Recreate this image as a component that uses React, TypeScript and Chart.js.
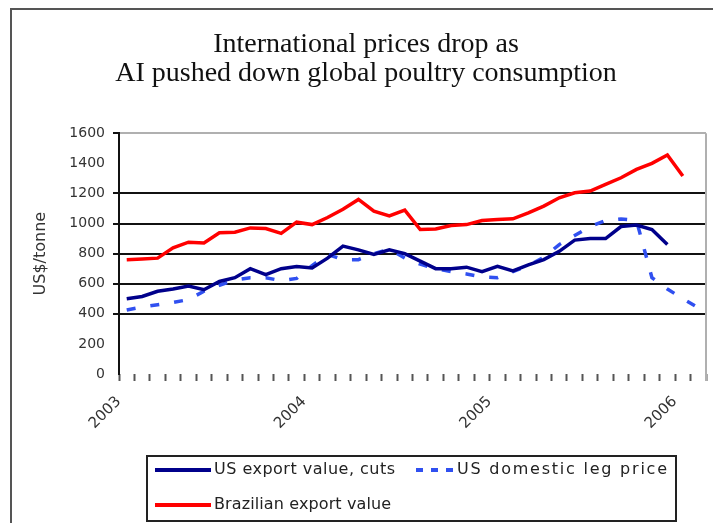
import { useEffect, useRef } from 'react';
import { Chart, registerables } from 'chart.js';

Chart.register(...registerables);

const months: string[] = [
  '2003-01', '2003-02', '2003-03', '2003-04', '2003-05', '2003-06', '2003-07', '2003-08', '2003-09', '2003-10', '2003-11', '2003-12',
  '2004-01', '2004-02', '2004-03', '2004-04', '2004-05', '2004-06', '2004-07', '2004-08', '2004-09', '2004-10', '2004-11', '2004-12',
  '2005-01', '2005-02', '2005-03', '2005-04', '2005-05', '2005-06', '2005-07', '2005-08', '2005-09', '2005-10', '2005-11', '2005-12',
  '2006-01', '2006-02',
];

const usExportValue: (number | null)[] = [
  500, 515, 550, 565, 585, 560, 615, 640, 700, 660, 700, 715,
  705, 770, 850, 825, 795, 825, 800, 750, 700, 700, 710, 680,
  715, 685, 725, 760, 815, 890, 900, 900, 980, 990, 960, 860,
  null, null,
];

const usDomesticLegPrice: (number | null)[] = [
  425, 445, 460, 475, 495, 550, 590, 625, 640, 640, 620, 635,
  720, 795, 760, 760, 800, 830, 770, 730, 700, 680, 665, 645,
  640, 680, 720, 776, 860, 920, 980, 1020, 1030, 1020, 640, 565,
  500, 440,
];

const brazilianExportValue: (number | null)[] = [
  760, 765, 770, 838, 876, 871, 938, 942, 971, 967, 935, 1009,
  993, 1040, 1095, 1160, 1082, 1050, 1089, 960, 964, 987, 993, 1020,
  1027, 1031, 1071, 1116, 1171, 1204, 1216, 1260, 1304, 1360, 1400, 1456,
  1316, null,
];

const seriesNames: string[] = ['US export value, cuts', 'US domestic leg price', 'Brazilian export value'];
const titleLines: string[] = ['International prices drop as', 'AI pushed down global poultry consumption'];
const yAxisTitle = 'US$/tonne';
const yMin = 0;
const yMax = 1600;
const yStep = 200;
const darkGridValues: number[] = [400, 600, 800, 1000, 1200];

const legendLayout = [
  { x: 155, y: 470, len: 56, textX: 214, textW: 181 },
  { x: 416, y: 470, len: 40, textX: 457, textW: 210 },
  { x: 155, y: 505, len: 56, textX: 214, textW: 177 },
];

const framePlugin = {
  id: 'frameAndLegend',
  beforeDraw(chart: any) {
    const ctx = chart.ctx;
    ctx.save();
    ctx.fillStyle = '#ffffff';
    ctx.fillRect(0, 0, chart.width, chart.height);
    ctx.strokeStyle = '#555555';
    ctx.lineWidth = 2;
    ctx.beginPath();
    ctx.moveTo(11, chart.height + 2);
    ctx.lineTo(11, 9);
    ctx.lineTo(chart.width + 2, 9);
    ctx.stroke();
    ctx.restore();
  },
  afterDraw(chart: any) {
    const ctx = chart.ctx;
    const area = chart.chartArea;
    ctx.save();
    ctx.strokeStyle = '#b0b0b0';
    ctx.lineWidth = 2;
    ctx.beginPath();
    ctx.moveTo(area.right, area.top);
    ctx.lineTo(area.right, area.bottom + 7);
    ctx.stroke();
    ctx.strokeStyle = '#222222';
    ctx.lineWidth = 2;
    ctx.strokeRect(147, 456, 529, 65);
    ctx.font = '16px "DejaVu Sans"';
    ctx.textBaseline = 'middle';
    ctx.textAlign = 'left';
    chart.data.datasets.forEach((ds: any, i: number) => {
      const L = legendLayout[i];
      ctx.strokeStyle = ds.borderColor;
      ctx.lineWidth = 4;
      ctx.setLineDash(ds.borderDash && ds.borderDash.length ? [7, 8] : []);
      ctx.beginPath();
      ctx.moveTo(L.x, L.y);
      ctx.lineTo(L.x + L.len, L.y);
      ctx.stroke();
      ctx.setLineDash([]);
      ctx.fillStyle = '#222222';
      const label = String(ds.label);
      (ctx as any).letterSpacing = '0px';
      const w = ctx.measureText(label).width;
      const extra = Math.max(0, (L.textW - w) / Math.max(1, label.length - 1));
      (ctx as any).letterSpacing = extra.toFixed(2) + 'px';
      ctx.fillText(label, L.textX, L.y);
      (ctx as any).letterSpacing = '0px';
    });
    ctx.restore();
  },
};

export default function App() {
  const canvasRef = useRef<HTMLCanvasElement | null>(null);

  useEffect(() => {
    document.body.style.margin = '0';
    document.body.style.overflow = 'hidden';
    const canvas = canvasRef.current;
    if (!canvas) return;
    const chart = new Chart(canvas, {
      type: 'line',
      data: {
        labels: months,
        datasets: [
          {
            label: seriesNames[0],
            data: usExportValue,
            borderColor: '#00008b',
            borderWidth: 3.5,
            pointRadius: 0,
            tension: 0,
            fill: false,
          },
          {
            label: seriesNames[1],
            data: usDomesticLegPrice,
            borderColor: '#3050f0',
            borderWidth: 3.5,
            borderDash: [9, 15],
            pointRadius: 0,
            tension: 0,
            fill: false,
          },
          {
            label: seriesNames[2],
            data: brazilianExportValue,
            borderColor: '#ff0000',
            borderWidth: 3.5,
            pointRadius: 0,
            tension: 0,
            fill: false,
          },
        ],
      },
      options: {
        animation: false,
        responsive: false,
        maintainAspectRatio: false,
        layout: { padding: { left: 26, right: 7, top: 0, bottom: 0 } },
        plugins: {
          legend: { display: false },
          tooltip: { enabled: false },
          title: {
            display: true,
            text: titleLines,
            color: '#111111',
            font: { family: '"Liberation Serif", serif', size: 28, weight: 'normal', lineHeight: 1.04 },
            padding: { top: 30, bottom: 45 },
          },
        },
        scales: {
          x: {
            type: 'category',
            offset: true,
            afterFit(scale: any) {
              scale.height = 149;
              scale.paddingLeft = 0;
              scale.paddingRight = 0;
            },
            border: { display: false },
            grid: {
              offset: true,
              drawOnChartArea: false,
              drawTicks: true,
              tickLength: 7,
              tickColor: '#555555',
              tickWidth: 2,
            },
            ticks: {
              autoSkip: false,
              maxRotation: 45,
              minRotation: 45,
              labelOffset: -8,
              padding: 12,
              color: '#333333',
              font: { family: '"DejaVu Sans"', size: 15 },
              callback(this: any, value: any) {
                const lab = this.getLabelForValue(value) as string;
                return lab.endsWith('-01') ? lab.slice(0, 4) : '';
              },
            },
          },
          y: {
            min: yMin,
            max: yMax,
            afterFit(scale: any) {
              scale.width = 93;
            },
            border: { display: true, color: '#111111', width: 2 },
            grid: {
              lineWidth: 2,
              tickLength: 6,
              color: (c: any) => {
                const v = c.tick ? c.tick.value : null;
                if (v === yMax) return '#b0b0b0';
                return darkGridValues.includes(v) ? '#111111' : 'rgba(0,0,0,0)';
              },
              tickColor: (c: any) => {
                const v = c.tick ? c.tick.value : null;
                return v === yMax || darkGridValues.includes(v) ? '#111111' : 'rgba(0,0,0,0)';
              },
            },
            ticks: {
              stepSize: yStep,
              padding: 8,
              color: '#333333',
              font: { family: '"DejaVu Sans"', size: 14 },
              callback: (value: any) => String(value),
            },
            title: {
              display: true,
              text: yAxisTitle,
              color: '#333333',
              font: { family: '"DejaVu Sans"', size: 16 },
              padding: { top: 5, bottom: 0 },
            },
          },
        },
      },
      plugins: [framePlugin],
    });
    return () => chart.destroy();
  }, []);

  return (
    <div style={{ width: 713, height: 523 }}>
      <canvas ref={canvasRef} width={713} height={523} style={{ display: 'block', width: 713, height: 523 }} />
    </div>
  );
}
